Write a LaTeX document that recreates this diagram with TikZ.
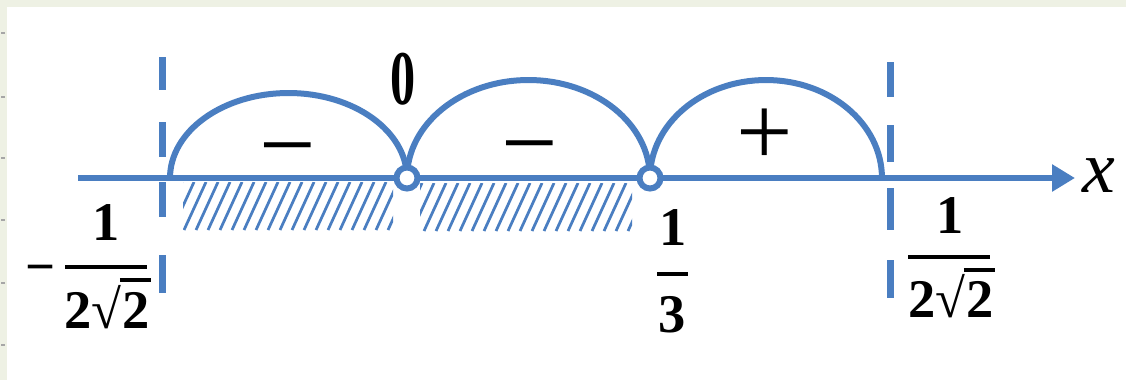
\RequirePackage{fix-cm}
\documentclass[tikz,border=0pt]{standalone}
\usepackage{fontspec}
\setmainfont{Liberation Serif}
\usetikzlibrary{arrows.meta}
\definecolor{axisblue}{RGB}{74,126,193}
\definecolor{framegreen}{RGB}{238,241,228}
\begin{document}
\begin{tikzpicture}[x=0.02cm,y=0.02cm,
  blueline/.style={draw=axisblue,line width=0.12cm},
  hatchline/.style={draw=axisblue,line width=0.055cm},
  guide/.style={draw=axisblue,line width=0.14cm},
  hole/.style={circle,draw=axisblue,line width=0.12cm,fill=white,minimum size=0.42cm,inner sep=0pt},
  num/.style={inner sep=0pt,anchor=base,font=\fontsize{31}{36}\selectfont\bfseries},
  fracbar/.style={draw=black,line width=0.08cm},
  rootbar/.style={draw=black,line width=0.07cm},
  sign/.style={inner sep=0pt,anchor=base,font=\fontsize{57}{64}\selectfont},
  tick/.style={draw=black!35,line width=0.03cm}
]
% page frame
\fill[framegreen] (0,0) rectangle (1126,-380);
\fill[white] (7,-7) rectangle (1126,-380);
\useasboundingbox (0,0) rectangle (1126,-380);
\foreach \t in {33,97,158,220,283,345} \draw[tick] (1,-\t) -- (5,-\t);

% shaded solution intervals
\begin{scope}
  \clip (183,-182) rectangle (393,-230);
  \foreach \i in {160,172,...,400} \draw[hatchline] (\i,-230) -- ++(22,48);
\end{scope}
\begin{scope}
  \clip (420,-183) rectangle (632,-231);
  \foreach \i in {400,412,...,640} \draw[hatchline] (\i,-231) -- ++(22,48);
\end{scope}

% vertical asymptotes
\foreach \a/\b in {57/90,122/157,182/217,255/293} \draw[guide] (162,-\a) -- (162,-\b);
\foreach \a/\b in {62/97,125/162,188/230,260/298} \draw[guide] (890,-\a) -- (890,-\b);

% number line
\coordinate (xs) at (78,-178);
\coordinate (xe) at (1075,-178);
\draw[blueline,-{Triangle[length=0.46cm,width=0.52cm]}] (xs) -- (xe);
\node[inner sep=0pt,font=\fontsize{42}{48}\selectfont\itshape] (xl) at (1099,-176) {x};

% sign arcs
\coordinate (a0) at (170,-178);
\coordinate (z0c) at (407,-178);
\coordinate (z1c) at (650,-178);
\draw[blueline] (a0) arc[start angle=180,end angle=0,x radius=2.37cm,y radius=1.70cm];
\draw[blueline] (z0c) arc[start angle=180,end angle=0,x radius=2.43cm,y radius=1.96cm];
\draw[blueline] (z1c) arc[start angle=180,end angle=0,x radius=2.32cm,y radius=1.96cm];

% excluded points
\node[hole] (z0) at (z0c) {};
\node[hole] (z1) at (z1c) {};

% interval signs
\node[sign] (s1) at (288,-178) {−};
\node[sign] (s2) at (530,-176) {−};
\node[sign] (s3) at (765,-165) {+};

% point labels
\node[inner sep=0pt,font=\fontsize{44}{50}\selectfont\bfseries,xscale=0.65] (l0) at (403,-79) {0};

% -1/(2 sqrt 2)
\node[inner sep=0pt,anchor=base,font=\fontsize{30}{34}\selectfont\bfseries] (lm) at (41,-284) {−};
\node[num] (ln) at (106,-240) {1};
\draw[fracbar] (65,-267) -- (147,-267);
\node[num,anchor=base west] (ld1) at (64,-328) {2√};
\node[num,anchor=base west] (ld2) at (ld1.base east) {2};
\draw[rootbar] ([shift={(-2,48)}]ld1.base east) -- ([shift={(1,48)}]ld2.base east);

% 1/3
\node[num] (tn) at (673,-245) {1};
\draw[fracbar] (657,-274) -- (688,-274);
\node[num] (td) at (672,-332) {3};

% 1/(2 sqrt 2)
\node[num] (rn) at (950,-233) {1};
\draw[fracbar] (908,-257) -- (990,-257);
\node[num,anchor=base west] (rd1) at (908,-317) {2√};
\node[num,anchor=base west] (rd2) at (rd1.base east) {2};
\draw[rootbar] ([shift={(-2,47)}]rd1.base east) -- ([shift={(1,47)}]rd2.base east);
\end{tikzpicture}
\end{document}
